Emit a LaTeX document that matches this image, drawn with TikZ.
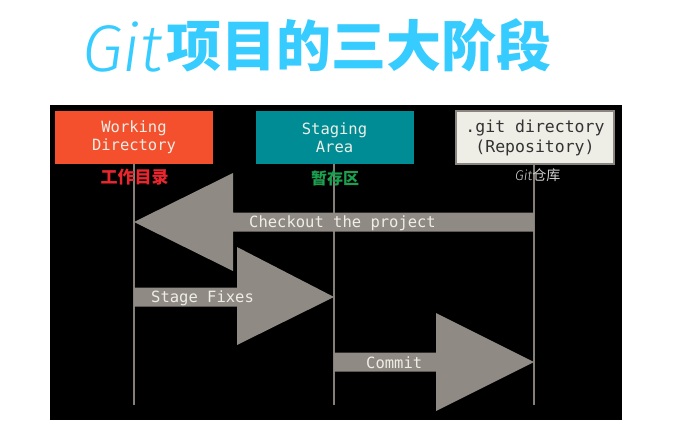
\documentclass[tikz,border=0pt]{standalone}
\usepackage{fontspec}
\setmonofont{DejaVu Sans Mono}
\newfontfamily\cjk{Noto Sans CJK SC}
\newfontfamily\gitfont{Fira Sans Light Italic}
\definecolor{titleblue}{HTML}{36CCFF}
\definecolor{wdfill}{HTML}{F4502D}
\definecolor{safill}{HTML}{008C95}
\definecolor{gdfill}{HTML}{EFEEE6}
\definecolor{gdline}{HTML}{8A857F}
\definecolor{arrowfill}{HTML}{8F8A83}
\definecolor{lifeline}{HTML}{857F79}
\definecolor{lighttext}{HTML}{EEEEE6}
\definecolor{wdred}{HTML}{E8262E}
\definecolor{sagreen}{HTML}{1CA04F}
\definecolor{repogray}{HTML}{CFCFCF}
\tikzset{
  areabox/.style={minimum width=158pt, minimum height=53pt, inner sep=0pt, align=center,
    font=\ttfamily\fontsize{15.5}{18}\selectfont, text=lighttext},
  lifelinestyle/.style={draw=lifeline, line width=1.4pt},
  fatarrow/.style={fill=arrowfill},
  arrowtext/.style={font=\ttfamily\fontsize{15.5}{18}\selectfont, text=lighttext, inner sep=0pt},
  cnlabel/.style={font=\cjk\bfseries\fontsize{17}{17}\selectfont, inner sep=0pt}
}
\begin{document}
\begin{tikzpicture}[x=1pt, y=-1pt]
\useasboundingbox (0,0) rectangle (690,442);
% title
\node[anchor=west, inner sep=0pt, text=titleblue, font=\gitfont\fontsize{66}{66}\selectfont] (titlegit) at (82,47) {Git};
\node[anchor=west, inner sep=0pt, text=titleblue, font=\cjk\bfseries\fontsize{55}{55}\selectfont] (titlecn) at (166,45) {项目的三大阶段};
% background
\fill[black] (50,105) rectangle (622,420);
% boxes
\node[areabox, fill=wdfill] (wd) at (134,137.5) {Working\\Directory};
\node[areabox, fill=safill] (sa) at (334.5,137.5) {Staging\\Area};
\node[areabox, fill=gdfill, draw=gdline, line width=1.5pt, text=black!80,
  font=\ttfamily\fontsize{16.5}{20}\selectfont] (gd) at (535,137.5) {.git directory\\(Repository)};
% lifelines
\coordinate (wdend) at (134,405);
\coordinate (saend) at (334,405);
\coordinate (gdend) at (534,405);
\draw[lifelinestyle] (wd.south -| wdend) -- (wdend);
\draw[lifelinestyle] (sa.south -| saend) -- (saend);
\draw[lifelinestyle] (gd.south -| gdend) -- (gdend);
% chinese labels
\node[cnlabel, text=wdred] (wdcn) at (134.5,177) {工作目录};
\node[cnlabel, text=sagreen, font=\cjk\bfseries\fontsize{16}{16}\selectfont] (sacn) at (335,178) {暂存区};
\node[inner sep=0pt, text=repogray, anchor=west] (gdcn) at (515,175)
  {{\gitfont\fontsize{14}{14}\selectfont Git}{\cjk\fontsize{14}{14}\selectfont 仓库}};
% arrows
\coordinate (cotip) at (134,222);
\coordinate (sftip) at (334,297);
\coordinate (cmtip) at (534,362);
\fill[fatarrow] (cotip) -- (233,173) -- (233,212.5) -- (534,212.5) -- (534,231.5)
  -- (233,231.5) -- (233,271) -- cycle;
\fill[fatarrow] (sftip) -- (237,247) -- (237,287.5) -- (134,287.5) -- (134,306.5)
  -- (237,306.5) -- (237,345) -- cycle;
\fill[fatarrow] (cmtip) -- (436,313) -- (436,352.5) -- (334,352.5) -- (334,371.5)
  -- (436,371.5) -- (436,411) -- cycle;
\node[arrowtext, anchor=west] (cotext) at (249,223) {Checkout the project};
\node[arrowtext, anchor=west] (sftext) at (151,298) {Stage Fixes};
\node[arrowtext, anchor=west] (cmtext) at (366,363) {Commit};
\end{tikzpicture}
\end{document}
